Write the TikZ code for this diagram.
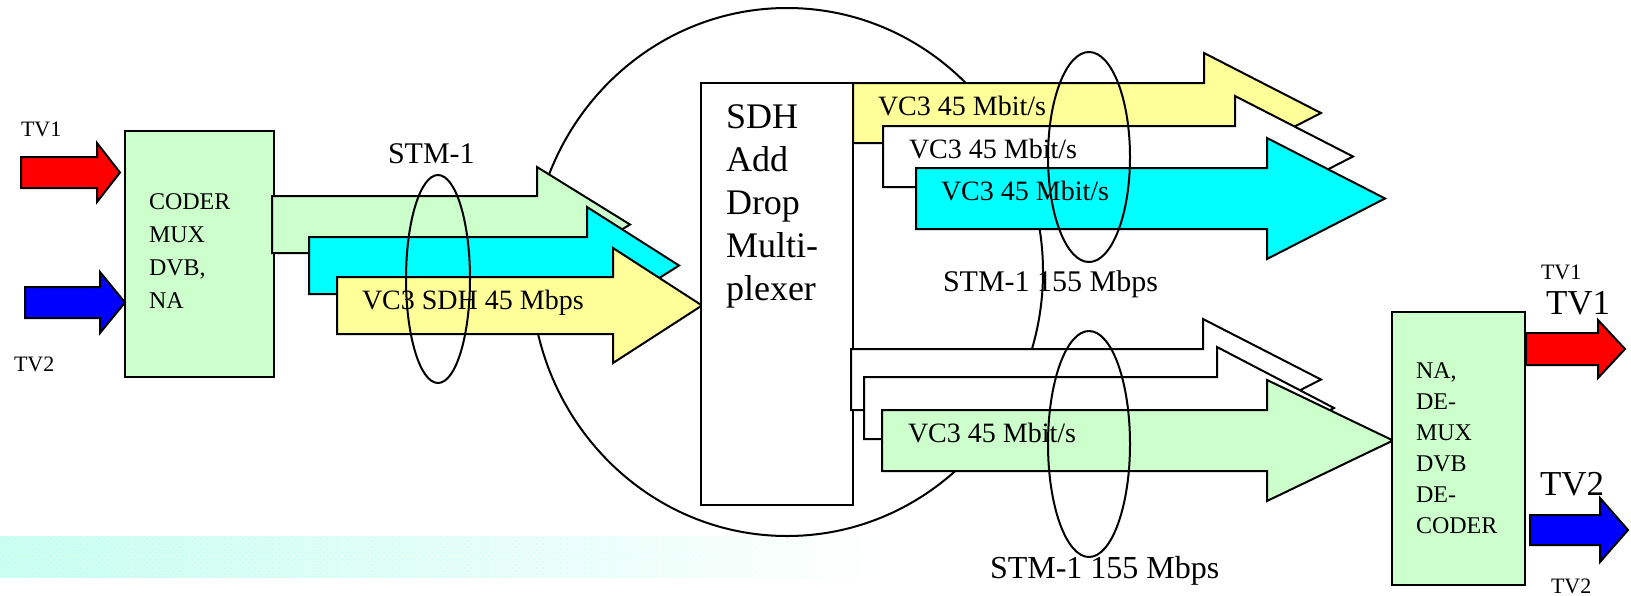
\documentclass[tikz,border=0pt]{standalone}
\usepackage{fontspec}
\setmainfont{Liberation Serif}
\usepackage{tikz}
\usetikzlibrary{positioning,patterns,fadings}
\tikzstyle{every node}=[line width=1pt]

\definecolor{lgreen}{RGB}{204,255,204}
\definecolor{lyellow}{RGB}{255,255,153}
\definecolor{lcyan}{RGB}{0,255,255}
\definecolor{lmint}{RGB}{205,255,238}

\tikzfading[name=fade band, left color=transparent!0, middle color=transparent!15, right color=transparent!100]

% fat arrow: [style]{x tail}{y top}{y bottom}{x notch}{head overhang}{x tip}
\newcommand{\fatarrow}[7][]{%
  \draw[#1] (#2,#3) -- (#5,#3) -- (#5,#3-#6) -- (#7,{(#3+#4)/2})
    -- (#5,#4+#6) -- (#5,#4) -- (#2,#4) -- cycle;}

\begin{document}
\begin{tikzpicture}[x=0.5pt, y=-0.5pt, line width=1pt]
  \tikzstyle{txt} = [inner sep=0pt, anchor=base west]
  \tikzstyle{small} = [txt, font=\fontsize{11}{13}\selectfont]
  \tikzstyle{big} = [txt, font=\fontsize{17.5}{20}\selectfont]
  \tikzstyle{vc} = [txt, font=\fontsize{14}{16}\selectfont]
  \tikzstyle{stm} = [txt, font=\fontsize{15}{18}\selectfont]
  \tikzstyle{dev} = [draw, fill=lgreen, rectangle, inner sep=0pt, outer sep=0pt, anchor=north west]
  \tikzstyle{devtxt} = [inner sep=0pt, anchor=north west, align=left, font=\fontsize{12}{16.5}\selectfont]

  \useasboundingbox (0,0) rectangle (1631,595);

  % band at the bottom
  \fill[lmint, path fading=fade band] (0,536) rectangle (885,578);
  \fill[pattern=crosshatch dots, pattern color=cyan!30, path fading=fade band] (0,536) rectangle (885,578);

  % add drop ring
  \draw (787,272) ellipse [x radius=256, y radius=264];

  % coder side
  \node[dev, minimum width=74.5pt, minimum height=123pt] (coder) at (125,131) {};
  \fatarrow[fill=red]{21}{157}{188}{97}{14}{120}
  \fatarrow[fill=blue]{25}{287}{318}{100}{15}{125}
  \fatarrow[fill=lgreen]{272}{196}{253}{537}{29}{630}
  \fatarrow[fill=lcyan]{309}{237}{294}{587}{30}{679}
  \fatarrow[fill=lyellow]{337}{277}{334}{613}{29}{702}

  % multiplexer
  \node[dev, fill=white, minimum width=76pt, minimum height=211pt] (adm) at (701,83) {};

  % dropped VC3s
  \fatarrow[fill=lyellow]{853}{83}{143}{1204}{30}{1321}
  \fatarrow[fill=white]{883}{126}{187}{1235}{30}{1353}
  \fatarrow[fill=lcyan]{916}{168}{229}{1267}{30}{1385}

  % added VC3s
  \fatarrow[fill=white]{851}{349}{410}{1203}{30}{1321}
  \fatarrow[fill=white]{864}{377}{439}{1217}{30}{1334}
  \fatarrow[fill=lgreen]{882}{410}{471}{1267}{30}{1393}

  % decoder side
  \node[dev, minimum width=66.5pt, minimum height=136.5pt] (decoder) at (1392,312) {};
  \fatarrow[fill=red]{1526}{333}{365}{1598}{13}{1625}
  \fatarrow[fill=blue]{1530}{515}{545}{1600}{17}{1628}

  % STM-1 bundles
  \draw (438,279) ellipse [x radius=32, y radius=104];
  \draw (1089,157) ellipse [x radius=41, y radius=105];
  \draw (1089,444) ellipse [x radius=41, y radius=113];

  \node[small] (tv1in) at (20,136) {TV1};
  \node[small] (tv2in) at (13,371) {TV2};
  \node[devtxt] (codertxt) at (148,193) {CODER\\MUX\\DVB,\\NA};
  \node[stm] (stmin) at (387,163) {STM-1};
  \node[vc] (vcin) at (361,309) {VC3 SDH 45 Mbps};
  \node[devtxt, font=\fontsize{18}{21.5}\selectfont] (admtxt) at (725,104) {SDH\\Add\\Drop\\Multi-\\plexer};
  \node[vc] (vcdrop1) at (877,115) {VC3 45 Mbit/s};
  \node[vc] (vcdrop2) at (908,158) {VC3 45 Mbit/s};
  \node[vc] (vcdrop3) at (940,200) {VC3 45 Mbit/s};
  \node[stm] (stmup) at (942,291) {STM-1 155 Mbps};
  \node[vc] (vcadd) at (907,442) {VC3 45 Mbit/s};
  \node[stm, font=\fontsize{16}{18}\selectfont] (stmdown) at (989,578) {STM-1 155 Mbps};
  \node[devtxt, font=\fontsize{12}{15.5}\selectfont] (dectxt) at (1415,362) {NA,\\DE-\\MUX\\DVB\\DE-\\CODER};
  \node[small] (tv1s) at (1540,279) {TV1};
  \node[big] (tv1out) at (1545,314) {TV1};
  \node[big] (tv2out) at (1539,495) {TV2};
  \node[small] (tv2s) at (1550,593) {TV2};
\end{tikzpicture}
\end{document}
